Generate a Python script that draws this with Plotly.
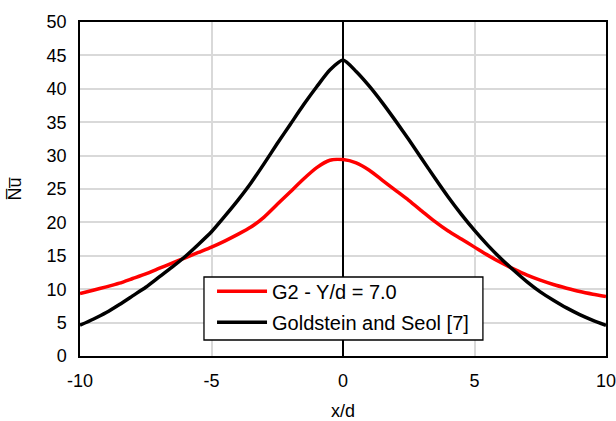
import plotly.graph_objects as go

x_d = [-10, -9.5, -9, -8.5, -8, -7.5, -7, -6.5, -6, -5.5, -5, -4.5, -4, -3.5, -3, -2.5, -2, -1.5, -1, -0.5,
       0, 0.5, 1, 1.5, 2, 2.5, 3, 3.5, 4, 4.5, 5, 5.5, 6, 6.5, 7, 7.5, 8, 8.5, 9, 9.5, 10]
nu_g2 = [9.35, 9.85, 10.35, 10.9, 11.6, 12.3, 13.1, 13.9, 14.7, 15.5, 16.3, 17.2, 18.2, 19.3, 20.8, 22.7, 24.6, 26.5, 28.2, 29.3,
         29.4, 28.9, 27.8, 26.3, 24.8, 23.3, 21.7, 20.1, 18.7, 17.5, 16.3, 15.1, 14.0, 13.0, 12.1, 11.35, 10.7, 10.15, 9.65, 9.25, 8.9]
nu_gold = [4.6, 5.5, 6.5, 7.7, 9.0, 10.3, 11.8, 13.3, 14.9, 16.7, 18.6, 20.9, 23.3, 25.9, 28.8, 31.8, 34.7, 37.6, 40.3, 42.8,
           44.3, 42.6, 40.4, 37.9, 35.2, 32.4, 29.5, 26.6, 23.8, 21.2, 18.8, 16.6, 14.6, 12.8, 11.1, 9.6, 8.35, 7.2, 6.2, 5.35, 4.6]

x_ticks = [-10, -5, 0, 5, 10]
x_tick_text = ["-10", "-5", "0", "5", "10"]
y_ticks = [0, 5, 10, 15, 20, 25, 30, 35, 40, 45, 50]

name_g2 = "G2 - Y/d = 7.0"
name_gold = "Goldstein and Seol [7]"

FONT = "Liberation Sans, Arial, sans-serif"

fig = go.Figure()
fig.add_trace(go.Scatter(x=x_d, y=nu_g2, mode="lines", name=name_g2, legendgroup="a",
                         line=dict(color="#ff0000", width=3.5, shape="spline", smoothing=0.6)))
fig.add_trace(go.Scatter(x=x_d, y=nu_gold, mode="lines", name=name_gold, legendgroup="b",
                         line=dict(color="#000000", width=3.5, shape="spline", smoothing=0.6)))

# legend frame (drawn as a shape so its size matches the original box)
fig.add_shape(type="rect", xref="paper", yref="paper",
              x0=0.2357, x1=0.766, y0=0.0479, y1=0.2365,
              fillcolor="white", line=dict(color="black", width=1.3), layer="above")

fig.update_layout(
    width=616, height=421,
    margin=dict(l=80, r=10, t=22, b=65),
    paper_bgcolor="white", plot_bgcolor="white",
    font=dict(family=FONT, size=18, color="black"),
    showlegend=True,
    legend=dict(x=0.251, y=0.2524, xanchor="left", yanchor="top",
                bgcolor="rgba(0,0,0,0)", borderwidth=0,
                font=dict(size=20, family=FONT), itemwidth=50,
                traceorder="grouped", tracegroupgap=2),
    xaxis=dict(range=[-10, 10], tickvals=x_ticks, ticktext=x_tick_text, showgrid=True,
               gridcolor="#d9d9d9", gridwidth=1.5,
               zeroline=True, zerolinecolor="black", zerolinewidth=1.5,
               showline=True, linecolor="black", linewidth=1.5, mirror=True,
               ticks="", ticklabelstandoff=8, automargin=False, ticklabeloverflow="allow",
               title=dict(text="x/d", font=dict(size=18), standoff=17)),
    yaxis=dict(range=[0, 50], tickvals=y_ticks, showgrid=True, gridcolor="#d9d9d9", gridwidth=1.5,
               zeroline=False,
               showline=True, linecolor="black", linewidth=1.5, mirror=True,
               ticks="", ticklabelstandoff=8, automargin=False, ticklabeloverflow="allow",
               title=dict(text="N\u0305u\u0305", font=dict(size=18), standoff=20)),
)

fig.write_html("out.html")
